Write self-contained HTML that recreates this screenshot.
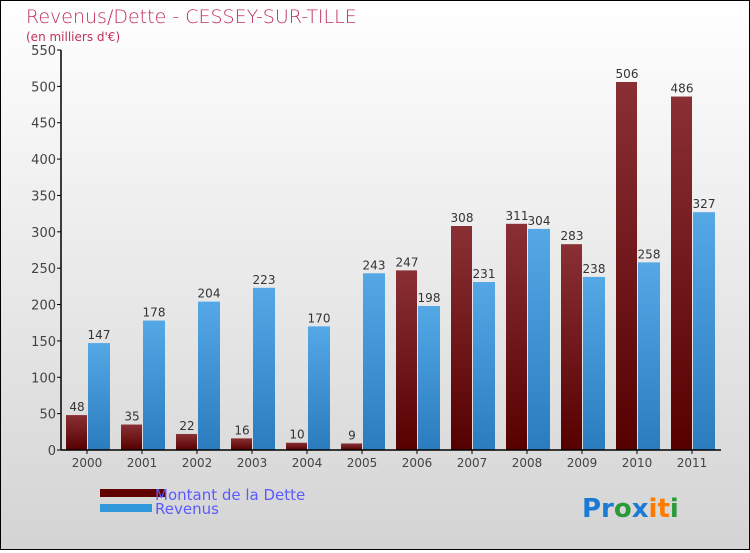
<!DOCTYPE html>
<html><head><meta charset="utf-8"><style>
body{margin:0}
#c{width:748px;height:548px;border:1px solid #000;background:linear-gradient(#fff,#d4d4d4);position:relative;font-family:"DejaVu Sans","Liberation Sans",sans-serif}
</style></head><body>
<div id="c">
<svg width="748" height="548" viewBox="1 1 748 548" id="s">
<defs>
<linearGradient id="gd" x1="0" y1="0" x2="0" y2="1"><stop offset="0" stop-color="#8a3035"/><stop offset="1" stop-color="#560000"/></linearGradient>
<linearGradient id="gr" x1="0" y1="0" x2="0" y2="1"><stop offset="0" stop-color="#55a8e6"/><stop offset="1" stop-color="#2a7cbe"/></linearGradient>
</defs>
<text x="26" y="23" font-size="19" fill="#c0305a" style="font-weight:200">Revenus/Dette - CESSEY-SUR-TILLE</text>
<text x="26" y="41" font-size="12" fill="#c0305a">(en milliers d'€)</text>
<g id="plot"></g>
<rect x="100" y="489" width="66" height="8" fill="#600000"/>
<text x="155" y="500" font-size="15" fill="#5a5aff">Montant de la Dette</text>
<rect x="100" y="504" width="52" height="8" fill="#3399dd"/>
<text x="155" y="514" font-size="15" fill="#5a5aff">Revenus</text>
<text x="582" y="517" font-size="26" font-weight="bold"><tspan fill="#1a7ad4">Pr</tspan><tspan fill="#2a9a3a">o</tspan><tspan fill="#1a7ad4">x</tspan><tspan fill="#ff7a00">i</tspan><tspan fill="#ff7a00">t</tspan><tspan fill="#2a9a3a">i</tspan></text>
</svg></div>
<script>
const years=["2000","2001","2002","2003","2004","2005","2006","2007","2008","2009","2010","2011"];
const dette=[48,35,22,16,10,9,247,308,311,283,506,486];
const revenus=[147,178,204,223,170,243,198,231,304,238,258,327];
const yTicks=[0,50,100,150,200,250,300,350,400,450,500,550];
const NS="http://www.w3.org/2000/svg";
const g=document.getElementById('plot');
const x0=61,x1=721,yb=450,yt=50,ymax=550;
const y=v=>yb-(v/ymax)*(yb-yt);
const xc=i=>x0+26+55*i;
function mk(t,a,txt){const e=document.createElementNS(NS,t);for(const k in a)e.setAttribute(k,a[k]);if(txt!==undefined)e.textContent=txt;g.appendChild(e);return e;}
yTicks.forEach(v=>{
 const l=mk('line',{x1:x0-4,x2:x0,y1:y(v),y2:y(v),stroke:'#000'});
 
 
 const t=mk('text',{x:x0-5,y:y(v)+5,'text-anchor':'end','font-size':13,fill:'#444'},v);
 
 
});
years.forEach((yr,i)=>{
 const c=xc(i);
 const b1=mk('rect',{x:c-21,y:y(dette[i]),width:21,height:yb-y(dette[i]),fill:'url(#gd)'});
 
 
 const b2=mk('rect',{x:c+1,y:y(revenus[i]),width:22,height:yb-y(revenus[i]),fill:'url(#gr)'});
 
 
 const t1=mk('text',{x:c-10,y:y(dette[i])-4,'text-anchor':'middle','font-size':12,fill:'#333'},dette[i]);
 
 
 const t2=mk('text',{x:c+12,y:y(revenus[i])-4,'text-anchor':'middle','font-size':12,fill:'#333'},revenus[i]);
 
 
 const tk=mk('line',{x1:c,x2:c,y1:yb,y2:yb+4,stroke:'#000'});
 
 
 const xl=mk('text',{x:c,y:yb+17,'text-anchor':'middle','font-size':12,fill:'#444'},yr);
 
 
});
const ax=mk('line',{x1:x0,x2:x0,y1:yt,y2:yb,stroke:'#000','stroke-width':1.5});


const axx=mk('line',{x1:x0,x2:x1,y1:yb,y2:yb,stroke:'#000','stroke-width':1.5});


</script>
</body></html>
